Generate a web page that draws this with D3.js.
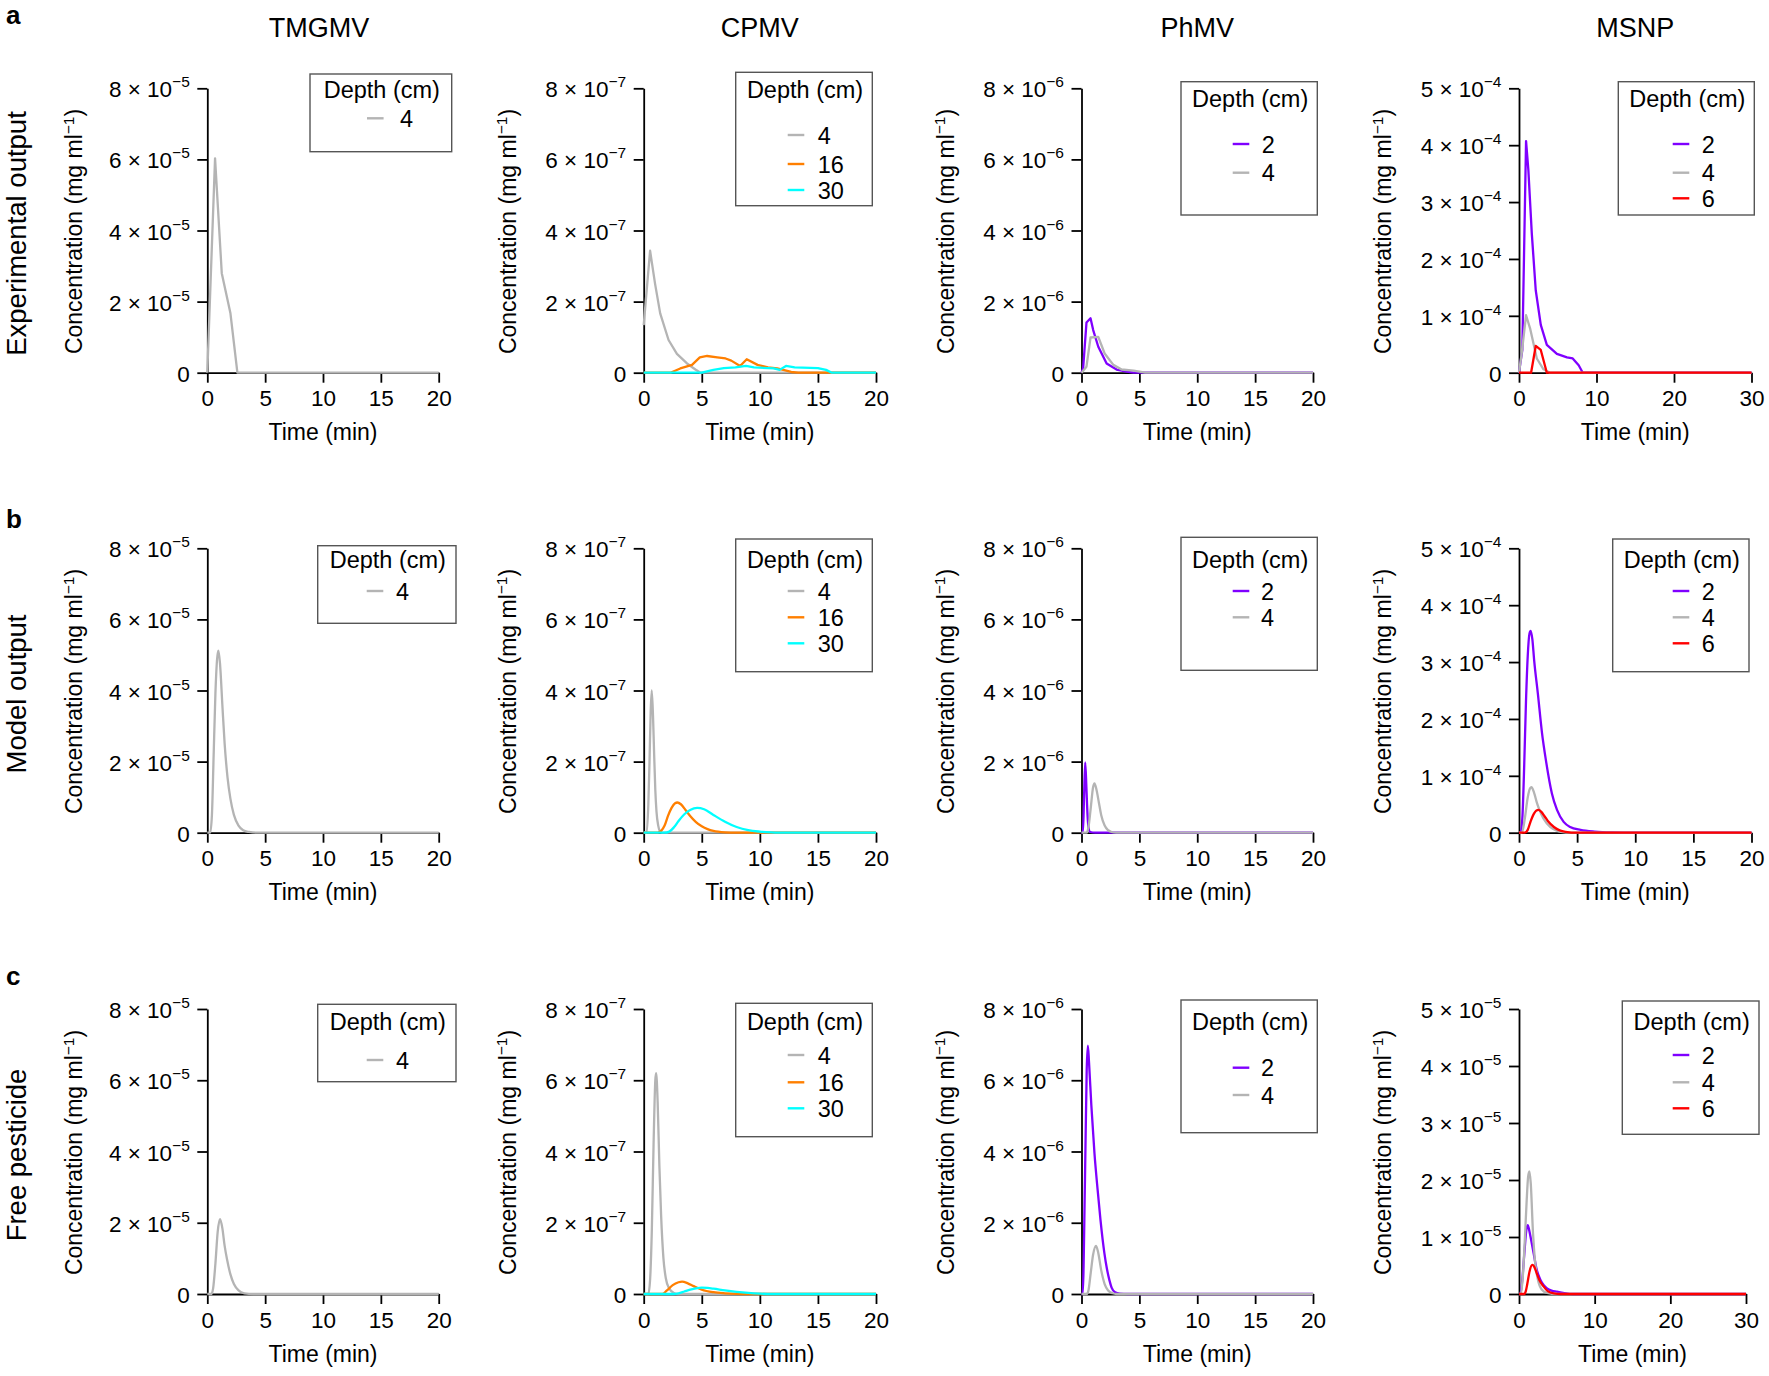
<!DOCTYPE html>
<html><head><meta charset="utf-8">
<script src="https://cdn.jsdelivr.net/npm/d3@7"></script>
<style>
body{margin:0;background:#fff}
svg text{font-family:"Liberation Sans",Arial,Helvetica,sans-serif;fill:#000}
</style></head><body>
<svg id="chart" width="1769" height="1376"></svg>
<script>
// ---------------- DATA ----------------
const columnTitles = ["TMGMV", "CPMV", "PhMV", "MSNP"];
const rowLabels = ["Experimental output", "Model output", "Free pesticide"];
const panelLetters = ["a", "b", "c"];
const depthColors = {"2": "#7f00ff", "4": "#b4b4b4", "6": "#ff0000", "16": "#ff7f00", "30": "#00ffff"};

const xTicks20 = [0, 5, 10, 15, 20];
const xTicks30 = [0, 10, 20, 30];
const yTicksTMGMV = [0, 2e-5, 4e-5, 6e-5, 8e-5];
const yTicksCPMV = [0, 2e-7, 4e-7, 6e-7, 8e-7];
const yTicksPhMV = [0, 2e-6, 4e-6, 6e-6, 8e-6];
const yTicksMSNP = [0, 1e-4, 2e-4, 3e-4, 4e-4, 5e-4];
const yTicksMSNPfree = [0, 1e-5, 2e-5, 3e-5, 4e-5, 5e-5];

// Experimental output  [time (min), concentration (mg/ml)]
const expTMGMV_d4 = [[0,0],[0.67,6.03e-5],[1.25,2.8e-5],[2.0,1.67e-5],[2.6,0],[20,0]];
const expCPMV_d4 = [[0,1.34e-7],[0.55,3.43e-7],[0.98,2.5e-7],[1.42,1.67e-7],[2.14,0.92e-7],[2.86,0.53e-7],[3.73,0.26e-7],[4.45,0.09e-7],[4.9,0],[20,0]];
const expCPMV_d16 = [[0,0],[2.3,0],[3.15,0.12e-7],[4.16,0.22e-7],[4.83,0.43e-7],[5.46,0.47e-7],[6.33,0.43e-7],[7.05,0.40e-7],[7.54,0.34e-7],[8.3,0.19e-7],[8.87,0.38e-7],[9.8,0.22e-7],[10.7,0.15e-7],[11.5,0.12e-7],[12.7,0.02e-7],[13.3,0],[20,0]];
const expCPMV_d30 = [[0,0],[5.0,0],[6.0,0.08e-7],[6.9,0.13e-7],[7.9,0.15e-7],[8.8,0.19e-7],[9.5,0.15e-7],[11.2,0.12e-7],[11.7,0.08e-7],[12.25,0.19e-7],[13.0,0.15e-7],[15.0,0.13e-7],[15.7,0.08e-7],[16.2,0],[20,0]];
const expPhMV_d2 = [[0,0],[0.14,0.12e-6],[0.43,1.41e-6],[0.78,1.53e-6],[1.01,1.2e-6],[1.45,0.73e-6],[2.17,0.26e-6],[3.03,0.09e-6],[3.9,0.03e-6],[4.5,0],[20,0]];
const expPhMV_d4 = [[0,0],[0.43,0.17e-6],[0.78,0.99e-6],[1.45,1.01e-6],[2.0,0.54e-6],[2.75,0.22e-6],[3.47,0.09e-6],[4.5,0.06e-6],[5.5,0],[20,0]];
const expMSNP_d2 = [[0,0],[0.43,0.4e-4],[0.91,4.07e-4],[1.21,3.56e-4],[1.65,2.45e-4],[2.16,1.45e-4],[2.81,0.84e-4],[3.59,0.49e-4],[4.89,0.33e-4],[6.19,0.27e-4],[6.93,0.25e-4],[7.7,0.13e-4],[8.23,0],[30,0]];
const expMSNP_d4 = [[0,0],[0.35,0.34e-4],[0.91,1.01e-4],[1.43,0.78e-4],[2.3,0.25e-4],[3.16,0.06e-4],[4.0,0],[30,0]];
const expMSNP_d6 = [[0,0],[1.56,0],[2.16,0.47e-4],[2.81,0.40e-4],[3.59,0],[30,0]];

// Model output
const modTMGMV_d4 = [[0,0],[0.25,0],[0.4,0.5e-5],[0.55,2.2e-5],[0.7,3.9e-5],[0.85,4.9e-5],[0.96,5.12e-5],[1.1,4.75e-5],[1.3,3.6e-5],[1.5,2.5e-5],[1.75,1.55e-5],[2.0,0.95e-5],[2.3,0.5e-5],[2.7,0.2e-5],[3.1,0.07e-5],[3.6,0.02e-5],[4.2,0],[20,0]];
const modCPMV_d4 = [[0,0],[0.25,0],[0.4,0.8e-7],[0.5,2.0e-7],[0.6,3.4e-7],[0.69,4.0e-7],[0.8,3.3e-7],[0.9,2.2e-7],[1.0,1.2e-7],[1.1,0.6e-7],[1.25,0.2e-7],[1.4,0.04e-7],[1.6,0],[20,0]];
const modCPMV_d16 = [[0,0],[1.2,0],[1.5,0.05e-7],[1.8,0.2e-7],[2.1,0.48e-7],[2.4,0.7e-7],[2.7,0.83e-7],[2.9,0.85e-7],[3.2,0.8e-7],[3.6,0.64e-7],[4.0,0.47e-7],[4.5,0.3e-7],[5.0,0.18e-7],[5.5,0.1e-7],[6.0,0.05e-7],[7.0,0.01e-7],[8,0],[20,0]];
const modCPMV_d30 = [[0,0],[1.8,0],[2.2,0.03e-7],[2.6,0.15e-7],[3.0,0.33e-7],[3.5,0.52e-7],[4.0,0.64e-7],[4.6,0.70e-7],[5.2,0.66e-7],[6.0,0.5e-7],[7.0,0.31e-7],[8.0,0.16e-7],[9.0,0.07e-7],[10,0.03e-7],[11,0.01e-7],[12,0],[20,0]];
const modPhMV_d2 = [[0,0],[0.12,0],[0.22,1.0e-6],[0.32,1.98e-6],[0.42,1.3e-6],[0.52,0.5e-6],[0.62,0.12e-6],[0.75,0.02e-6],[1.2,0],[20,0]];
const modPhMV_d4 = [[0,0],[0.45,0],[0.6,0.15e-6],[0.8,0.7e-6],[1.0,1.28e-6],[1.12,1.39e-6],[1.3,1.2e-6],[1.5,0.85e-6],[1.7,0.5e-6],[2.0,0.2e-6],[2.3,0.07e-6],[2.6,0.02e-6],[3.0,0],[20,0]];
const modMSNP_d2 = [[0,0],[0.14,0],[0.3,0.3e-4],[0.45,1.2e-4],[0.6,2.3e-4],[0.75,3.1e-4],[0.9,3.5e-4],[1.0,3.55e-4],[1.15,3.4e-4],[1.3,3.04e-4],[1.62,2.45e-4],[1.97,1.77e-4],[2.31,1.28e-4],[2.83,0.69e-4],[3.27,0.4e-4],[3.84,0.19e-4],[4.4,0.1e-4],[5.3,0.05e-4],[6.5,0.02e-4],[8,0.005e-4],[10,0],[20,0]];
const modMSNP_d4 = [[0,0],[0.25,0],[0.5,0.25e-4],[0.75,0.62e-4],[0.95,0.78e-4],[1.07,0.8e-4],[1.3,0.7e-4],[1.55,0.52e-4],[1.76,0.4e-4],[2.1,0.25e-4],[2.7,0.1e-4],[3.2,0.04e-4],[3.6,0.015e-4],[4.5,0],[20,0]];
const modMSNP_d6 = [[0,0],[0.5,0],[0.75,0.05e-4],[1.0,0.2e-4],[1.3,0.34e-4],[1.5,0.39e-4],[1.68,0.4e-4],[1.9,0.37e-4],[2.2,0.29e-4],[2.5,0.2e-4],[3.0,0.1e-4],[3.5,0.04e-4],[4.0,0.015e-4],[5,0],[20,0]];

// Free pesticide
const freeTMGMV_d4 = [[0,0],[0.35,0],[0.5,0.15e-5],[0.7,0.85e-5],[0.9,1.75e-5],[1.1,2.1e-5],[1.3,1.85e-5],[1.5,1.35e-5],[1.7,0.98e-5],[2.0,0.55e-5],[2.3,0.28e-5],[2.7,0.1e-5],[3.2,0.02e-5],[4,0],[20,0]];
const freeCPMV_d4 = [[0,0],[0.4,0],[0.55,0.4e-7],[0.7,1.8e-7],[0.85,4.2e-7],[1.0,6.0e-7],[1.07,6.2e-7],[1.2,5.4e-7],[1.35,3.6e-7],[1.5,2.2e-7],[1.7,1.0e-7],[1.9,0.45e-7],[2.2,0.15e-7],[2.6,0.03e-7],[3.0,0],[20,0]];
const freeCPMV_d16 = [[0,0],[1.6,0],[2.0,0.1e-7],[2.5,0.25e-7],[3.0,0.33e-7],[3.3,0.35e-7],[3.8,0.3e-7],[4.3,0.22e-7],[5.0,0.12e-7],[6.0,0.05e-7],[7.0,0.02e-7],[8.0,0.005e-7],[9,0],[20,0]];
const freeCPMV_d30 = [[0,0],[2.5,0],[3.0,0.02e-7],[3.5,0.07e-7],[4.0,0.12e-7],[4.5,0.16e-7],[5.0,0.18e-7],[5.5,0.17e-7],[6.0,0.15e-7],[7.0,0.1e-7],[8.0,0.06e-7],[9.0,0.03e-7],[10,0.01e-7],[11,0],[20,0]];
const freePhMV_d2 = [[0,0],[0.1,0],[0.3,3.2e-6],[0.45,6.3e-6],[0.55,6.97e-6],[0.65,6.5e-6],[0.85,5.3e-6],[1.12,3.95e-6],[1.4,2.9e-6],[1.64,2.08e-6],[1.98,1.14e-6],[2.2,0.7e-6],[2.41,0.39e-6],[2.6,0.18e-6],[2.9,0.05e-6],[3.3,0.01e-6],[4,0],[20,0]];
const freePhMV_d4 = [[0,0],[0.45,0],[0.6,0.1e-6],[0.8,0.6e-6],[1.0,1.1e-6],[1.26,1.35e-6],[1.45,1.15e-6],[1.7,0.67e-6],[2.0,0.28e-6],[2.3,0.1e-6],[2.7,0.02e-6],[3.0,0],[20,0]];
const freeMSNP_d2 = [[0,0],[0.18,0],[0.4,0.2e-5],[0.7,0.7e-5],[0.95,1.1e-5],[1.15,1.21e-5],[1.35,1.12e-5],[1.6,0.95e-5],[1.94,0.71e-5],[2.3,0.45e-5],[2.82,0.25e-5],[3.3,0.15e-5],[3.7,0.1e-5],[4.3,0.06e-5],[5.0,0.04e-5],[6.0,0.015e-5],[7.2,0],[30,0]];
const freeMSNP_d4 = [[0,0],[0.25,0],[0.5,0.3e-5],[0.75,0.9e-5],[1.0,1.6e-5],[1.2,2.05e-5],[1.37,2.15e-5],[1.55,1.95e-5],[1.85,1.07e-5],[2.1,0.6e-5],[2.5,0.25e-5],[3.0,0.08e-5],[3.7,0.02e-5],[5,0],[30,0]];
const freeMSNP_d6 = [[0,0],[0.7,0],[0.9,0.05e-5],[1.1,0.18e-5],[1.4,0.4e-5],[1.76,0.51e-5],[2.0,0.48e-5],[2.3,0.38e-5],[2.7,0.24e-5],[3.26,0.13e-5],[3.8,0.05e-5],[4.6,0.01e-5],[5.5,0],[30,0]];

// ---------------- PANEL DEFINITIONS ----------------
const panels = [
  {row:0,col:0,smooth:false,xMax:20,xTicks:xTicks20,yMax:8e-5,yTicks:yTicksTMGMV,series:[["4",expTMGMV_d4]]},
  {row:0,col:1,smooth:false,xMax:20,xTicks:xTicks20,yMax:8e-7,yTicks:yTicksCPMV,series:[["4",expCPMV_d4],["16",expCPMV_d16],["30",expCPMV_d30]]},
  {row:0,col:2,smooth:false,xMax:20,xTicks:xTicks20,yMax:8e-6,yTicks:yTicksPhMV,series:[["2",expPhMV_d2],["4",expPhMV_d4]]},
  {row:0,col:3,smooth:false,xMax:30,xTicks:xTicks30,yMax:5e-4,yTicks:yTicksMSNP,series:[["2",expMSNP_d2],["4",expMSNP_d4],["6",expMSNP_d6]]},
  {row:1,col:0,smooth:true,xMax:20,xTicks:xTicks20,yMax:8e-5,yTicks:yTicksTMGMV,series:[["4",modTMGMV_d4]]},
  {row:1,col:1,smooth:true,xMax:20,xTicks:xTicks20,yMax:8e-7,yTicks:yTicksCPMV,series:[["4",modCPMV_d4],["16",modCPMV_d16],["30",modCPMV_d30]]},
  {row:1,col:2,smooth:true,xMax:20,xTicks:xTicks20,yMax:8e-6,yTicks:yTicksPhMV,series:[["2",modPhMV_d2],["4",modPhMV_d4]]},
  {row:1,col:3,smooth:true,xMax:20,xTicks:xTicks20,yMax:5e-4,yTicks:yTicksMSNP,series:[["2",modMSNP_d2],["4",modMSNP_d4],["6",modMSNP_d6]]},
  {row:2,col:0,smooth:true,xMax:20,xTicks:xTicks20,yMax:8e-5,yTicks:yTicksTMGMV,series:[["4",freeTMGMV_d4]]},
  {row:2,col:1,smooth:true,xMax:20,xTicks:xTicks20,yMax:8e-7,yTicks:yTicksCPMV,series:[["4",freeCPMV_d4],["16",freeCPMV_d16],["30",freeCPMV_d30]]},
  {row:2,col:2,smooth:true,xMax:20,xTicks:xTicks20,yMax:8e-6,yTicks:yTicksPhMV,series:[["2",freePhMV_d2],["4",freePhMV_d4]]},
  {row:2,col:3,smooth:true,xMax:30,xTicks:xTicks30,yMax:5e-5,yTicks:yTicksMSNPfree,series:[["2",freeMSNP_d2],["4",freeMSNP_d4],["6",freeMSNP_d6]]}
];

// ---------------- LAYOUT ----------------
const colX0 = [207.3, 643.7, 1081.5, 1519];
const colX1 = [438.7, 876, 1313, 1751.5];
const rowTop = [88.3, 548.3, 1009];
const rowZero = [372.7, 832.7, 1294];
const yTitleOffset = [125, 128, 128, 128];
const titleShift = [-4, 0, 0, 0];
// legend layout per panel: box [x0,y0,x1,y1], title baseline, entry line ys, line x, text x
const legendLayout = [
  [[310,74,451.7,151.7],98.3,[118.3],367,400],
  [[735.7,72.3,872.3,205.7],98.3,[135,164,190],787.7,817.7],
  [[1181,81.7,1317.3,215],106.7,[144,172.7],1232.7,1261.7],
  [[1618.3,81.7,1754.3,215],106.7,[144,172.7,198.3],1672.7,1701.7],
  [[317.7,545.7,456,623.3],568.3,[591],366.7,396],
  [[735.7,539,872.3,671.7],568.3,[591,617.3,643.3],787.7,817.7],
  [[1181,537.3,1317.3,670.3],568.3,[591,617.3],1232.7,1261],
  [[1612.7,539,1749,671.7],568.3,[591,617.3,643.3],1672.7,1701.7],
  [[317.7,1004.3,456,1081.7],1030,[1060],366.7,396],
  [[735.7,1003.3,872.3,1136.7],1030,[1055,1082.3,1108.3],787.7,817.7],
  [[1181,1000,1317.3,1132.7],1030,[1067.7,1095],1232.7,1261],
  [[1622.3,1001,1759,1134.3],1030,[1055,1082.3,1108.3],1672.7,1701.7]
];

const svg = d3.select("#chart");
const FONT = '"Liberation Sans",Arial,Helvetica,sans-serif';
const AXW = 1.8;
const TICKFS = 22.5, LABFS = 23, LEGFS = 23.5;

function sciParts(v){
  const e = Math.floor(Math.log10(v) + 1e-9);
  const m = Math.round(v / Math.pow(10, e));
  return [m, e];
}

panels.forEach((p, i) => {
  const x0 = colX0[p.col];
  const x1 = (p.row === 2 && p.col === 3) ? 1746 : colX1[p.col];
  const top = rowTop[p.row], zero = rowZero[p.row];
  const x = d3.scaleLinear().domain([0, p.xMax]).range([x0, x1]);
  const y = d3.scaleLinear().domain([0, p.yMax]).range([zero, top]);
  const g = svg.append("g");

  // Y axis
  const ya = g.append("g").attr("transform", `translate(${x0},0)`)
    .call(d3.axisLeft(y).tickValues(p.yTicks).tickSize(10).tickSizeOuter(0).tickFormat(""));
  ya.attr("font-family", null).attr("font-size", null);
  ya.selectAll("path,line").attr("stroke", "#000").attr("stroke-width", AXW);
  ya.selectAll(".tick text").remove();
  ya.selectAll(".tick").append("text").each(function(v){
    const t = d3.select(this).attr("text-anchor", "end").attr("y", 8.5)
      .attr("font-size", TICKFS).attr("font-family", FONT).attr("fill", "#000");
    t.attr("x", -17.5);
    if (v === 0) { t.text("0"); return; }
    const [m, e] = sciParts(v);
    t.append("tspan").text(m + " \u00d7 10");
    t.append("tspan").attr("dy", -10).attr("font-size", 15.5).text("\u2212" + Math.abs(e));
  });

  // X axis
  const xa = g.append("g").attr("transform", `translate(0,${zero})`)
    .call(d3.axisBottom(x).tickValues(p.xTicks).tickSize(10).tickSizeOuter(0).tickFormat(d3.format("d")));
  xa.attr("font-family", null).attr("font-size", null);
  xa.selectAll("path,line").attr("stroke", "#000").attr("stroke-width", AXW);
  xa.selectAll(".tick text").attr("y", 33.5).attr("dy", null)
    .attr("font-size", TICKFS).attr("font-family", FONT).attr("fill", "#000");

  // axis titles
  g.append("text").attr("x", (x0 + x1) / 2).attr("y", zero + 67.5)
    .attr("text-anchor", "middle").attr("font-size", LABFS).text("Time (min)");
  const yl = g.append("text")
    .attr("transform", `translate(${x0 - yTitleOffset[p.col]},${(top + zero) / 2 + 1}) rotate(-90)`)
    .attr("text-anchor", "middle").attr("font-size", LABFS);
  yl.append("tspan").text("Concentration (mg ml");
  yl.append("tspan").attr("dy", -8.5).attr("font-size", 15.5).text("\u22121");
  yl.append("tspan").attr("dy", 8.5).attr("font-size", LABFS).text(")");

  // lines
  const line = d3.line().x(d => x(d[0])).y(d => y(d[1]))
    .curve(p.smooth ? d3.curveMonotoneX : d3.curveLinear);
  p.series.forEach(([depth, data]) => {
    g.append("path").datum(data).attr("d", line)
      .attr("fill", "none").attr("stroke", depthColors[depth])
      .attr("stroke-width", 2.3).attr("stroke-linejoin", "round");
  });

  // legend
  const [box, titleY, entryYs, lineX, textX] = legendLayout[i];
  g.append("rect").attr("x", box[0]).attr("y", box[1])
    .attr("width", box[2] - box[0]).attr("height", box[3] - box[1])
    .attr("fill", "#fff").attr("stroke", "#555").attr("stroke-width", 1.4);
  g.append("text").attr("x", (box[0] + box[2]) / 2 + 1).attr("y", titleY)
    .attr("text-anchor", "middle").attr("font-size", LEGFS).text("Depth (cm)");
  p.series.forEach(([depth], k) => {
    const ey = entryYs[k];
    g.append("line").attr("x1", lineX).attr("x2", lineX + 16.6)
      .attr("y1", ey).attr("y2", ey)
      .attr("stroke", depthColors[depth]).attr("stroke-width", 2.4);
    g.append("text").attr("x", textX).attr("y", ey + 8.5)
      .attr("font-size", LEGFS).text(depth);
  });

  // column titles
  if (p.row === 0) {
    svg.append("text").attr("x", (x0 + x1) / 2 + titleShift[p.col]).attr("y", 37)
      .attr("text-anchor", "middle").attr("font-size", 27).text(columnTitles[p.col]);
  }
});

// row labels and panel letters
const rowLabelCY = [233.5, 694, 1155];
const letterY = [24, 528, 985];
rowLabels.forEach((lab, r) => {
  svg.append("text").attr("transform", `translate(25.5,${rowLabelCY[r]}) rotate(-90)`)
    .attr("text-anchor", "middle").attr("font-size", 27.5).text(lab);
  svg.append("text").attr("x", 6).attr("y", letterY[r])
    .attr("font-size", 26).attr("font-weight", "bold").text(panelLetters[r]);
});
</script>
</body></html>
